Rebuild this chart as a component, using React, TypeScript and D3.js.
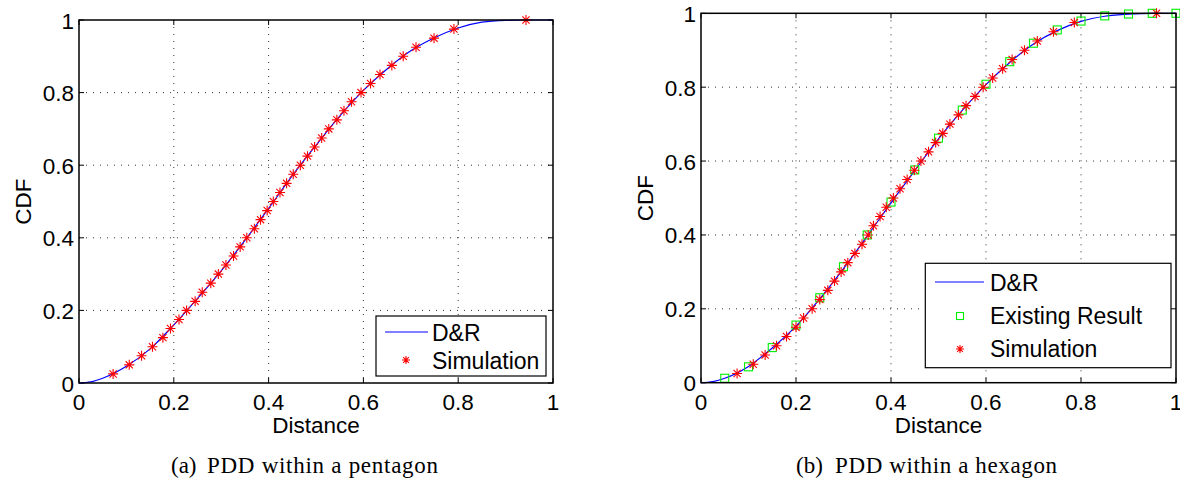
import * as d3 from "d3";
import { FC } from "react";

const W = 1180;
const H = 479;
const TICKS = [0, 0.2, 0.4, 0.6, 0.8, 1];
const TICK_LABELS = ["0", "0.2", "0.4", "0.6", "0.8", "1"];
const GRID = [0.2, 0.4, 0.6, 0.8];

// (a) pentagon
const PENT_DR_D = [0, 0.025, 0.05, 0.1, 0.15, 0.2, 0.25, 0.3, 0.35, 0.4, 0.45, 0.5, 0.55, 0.6, 0.65, 0.7, 0.75, 0.8, 0.85, 0.9, 0.95, 1];
const PENT_DR_CDF = [0, 0.003, 0.013, 0.046, 0.094, 0.16, 0.233, 0.309, 0.393, 0.481, 0.571, 0.655, 0.735, 0.806, 0.865, 0.915, 0.951, 0.978, 0.994, 0.999, 1, 1];
const PENT_SIM_D = [
  0.072, 0.106, 0.132, 0.155, 0.177, 0.193, 0.211, 0.227, 0.245, 0.26, 0.278, 0.294, 0.31, 0.326, 0.34,
  0.354, 0.37, 0.383, 0.397, 0.41, 0.424, 0.438, 0.452, 0.467, 0.482, 0.497, 0.512, 0.527, 0.544, 0.559,
  0.575, 0.595, 0.615, 0.635, 0.66, 0.684, 0.711, 0.749, 0.791, 0.943,
];
const PENT_SIM_CDF = [
  0.025, 0.05, 0.075, 0.1, 0.125, 0.15, 0.175, 0.2, 0.225, 0.25, 0.275, 0.3, 0.325, 0.35, 0.375,
  0.4, 0.425, 0.45, 0.475, 0.5, 0.525, 0.55, 0.575, 0.6, 0.625, 0.65, 0.675, 0.7, 0.725, 0.75,
  0.775, 0.8, 0.825, 0.85, 0.875, 0.9, 0.925, 0.95, 0.975, 1,
];

// (b) hexagon
const HEX_DR_D = [0, 0.025, 0.05, 0.1, 0.15, 0.2, 0.25, 0.3, 0.35, 0.4, 0.45, 0.5, 0.55, 0.6, 0.65, 0.7, 0.75, 0.8, 0.85, 0.9, 0.95, 1];
const HEX_DR_CDF = [0, 0.003, 0.012, 0.044, 0.094, 0.153, 0.227, 0.309, 0.397, 0.487, 0.574, 0.66, 0.737, 0.807, 0.867, 0.917, 0.953, 0.978, 0.992, 0.998, 1, 1];
const HEX_EX_D = [0.05, 0.1, 0.15, 0.2, 0.25, 0.3, 0.35, 0.4, 0.45, 0.5, 0.55, 0.6, 0.65, 0.7, 0.75, 0.8, 0.85, 0.9, 0.95, 1];
const HEX_EX_CDF = [0.012, 0.043, 0.095, 0.156, 0.23, 0.314, 0.4, 0.489, 0.576, 0.662, 0.738, 0.808, 0.869, 0.919, 0.955, 0.979, 0.993, 0.998, 1, 1];
const HEX_SIM_D = [
  0.076, 0.11, 0.135, 0.159, 0.18, 0.2, 0.216, 0.234, 0.25, 0.267, 0.281, 0.295, 0.309, 0.324, 0.339,
  0.352, 0.363, 0.377, 0.39, 0.405, 0.419, 0.434, 0.449, 0.463, 0.479, 0.494, 0.509, 0.524, 0.542, 0.558,
  0.577, 0.594, 0.614, 0.635, 0.655, 0.681, 0.708, 0.742, 0.786, 0.959,
];
const HEX_SIM_CDF = PENT_SIM_CDF;

type Pt = [number, number];
const zip = (a: number[], b: number[]): Pt[] => a.map((v, i) => [v, b[i]]);

const FONT = "'Liberation Sans', Arial, Helvetica, sans-serif";
const SERIF = "'Liberation Serif', 'Times New Roman', serif";

const star = (r: number) => {
  const q = r * 0.72;
  return `M${-r},0H${r}M0,${-r}V${r}M${-q},${-q}L${q},${q}M${-q},${q}L${q},${-q}`;
};

type LegendItem = { kind: "line" | "square" | "star"; label: string; y: number; base: number };

const Panel: FC<{
  x0: number;
  x1: number;
  y0: number;
  y1: number;
  dr: Pt[];
  sim: Pt[];
  ex?: Pt[];
  legend: { x: number; y: number; w: number; h: number; symX: number; textX: number; lineX: [number, number] };
  items: LegendItem[];
  tag: string;
  tagX: number;
  caption: string;
  capX: number;
  capLen: number;
}> = ({ x0, x1, y0, y1, dr, sim, ex, legend, items, tag, tagX, caption, capX, capLen }) => {
  const x = d3.scaleLinear().domain([0, 1]).range([x0, x1]);
  const y = d3.scaleLinear().domain([0, 1]).range([y1, y0]);
  const line = d3
    .line<Pt>()
    .x((d) => x(d[0]))
    .y((d) => y(d[1]))
    .curve(d3.curveMonotoneX);
  const tl = 5;

  return (
    <g>
      {/* grid */}
      {GRID.map((t) => (
        <g key={"g" + t} stroke="#333" strokeWidth={1} strokeDasharray="1,6">
          <line x1={x(t)} x2={x(t)} y1={y0} y2={y1} />
          <line x1={x0} x2={x1} y1={y(t)} y2={y(t)} />
        </g>
      ))}
      {/* ticks */}
      {TICKS.map((t) => (
        <g key={"t" + t} stroke="#000" strokeWidth={1}>
          <line x1={x(t)} x2={x(t)} y1={y1} y2={y1 - tl} />
          <line x1={x(t)} x2={x(t)} y1={y0} y2={y0 + tl} />
          <line x1={x0} x2={x0 + tl} y1={y(t)} y2={y(t)} />
          <line x1={x1} x2={x1 - tl} y1={y(t)} y2={y(t)} />
        </g>
      ))}
      {/* tick labels */}
      {TICKS.map((t, i) => (
        <g key={"l" + t} fontFamily={FONT} fontSize={22.5} fill="#000">
          <text x={x(t)} y={y1 + 27} textAnchor="middle">
            {TICK_LABELS[i]}
          </text>
          <text x={x0 - 5} y={y(t) + 8.5} textAnchor="end">
            {TICK_LABELS[i]}
          </text>
        </g>
      ))}
      {/* series */}
      <path d={line(dr) || ""} fill="none" stroke="#0000ff" strokeWidth={1.2} />
      {ex &&
        ex.map((d, i) => (
          <rect key={"e" + i} x={x(d[0]) - 4} y={y(d[1]) - 4} width={8} height={8} fill="none" stroke="#00ee00" strokeWidth={1.1} />
        ))}
      {sim.map((d, i) => (
        <path key={"s" + i} transform={`translate(${x(d[0])},${y(d[1])})`} d={star(5)} stroke="#ff0000" strokeWidth={1.1} fill="none" />
      ))}
      {/* box */}
      <rect x={x0} y={y0} width={x1 - x0} height={y1 - y0} fill="none" stroke="#000" strokeWidth={1.5} />
      {/* axis labels */}
      <text x={(x0 + x1) / 2} y={y1 + 50} textAnchor="middle" fontFamily={FONT} fontSize={22.5}>
        Distance
      </text>
      <text
        transform={`translate(${x0 - 48},${(y0 + y1) / 2}) rotate(-90)`}
        textAnchor="middle"
        fontFamily={FONT}
        fontSize={22.5}
      >
        CDF
      </text>
      {/* legend */}
      <rect x={legend.x} y={legend.y} width={legend.w} height={legend.h} fill="#fff" stroke="#000" strokeWidth={1.2} />
      {items.map((it) => (
        <g key={it.label}>
          {it.kind === "line" && (
            <line x1={legend.lineX[0]} x2={legend.lineX[1]} y1={it.y} y2={it.y} stroke="#0000ff" strokeWidth={1.2} />
          )}
          {it.kind === "square" && (
            <rect x={legend.symX - 3.5} y={it.y - 3.5} width={7} height={7} fill="none" stroke="#00ee00" strokeWidth={1.1} />
          )}
          {it.kind === "star" && (
            <path transform={`translate(${legend.symX},${it.y})`} d={star(4)} stroke="#ff0000" strokeWidth={1.1} fill="none" />
          )}
          <text x={legend.textX} y={it.base} fontFamily={FONT} fontSize={23}>
            {it.label}
          </text>
        </g>
      ))}
      {/* caption */}
      <text x={tagX} y={473} fontFamily={SERIF} fontSize={23}>
        {tag}
      </text>
      <text x={capX} y={473} fontFamily={SERIF} fontSize={23} textLength={capLen} lengthAdjust="spacing">
        {caption}
      </text>
    </g>
  );
};

const App: FC = () => {
  return (
    <svg
      width={W}
      height={H}
      viewBox={`0 0 ${W} ${H}`}
      style={{ position: "absolute", left: 0, top: 0, background: "#fff" }}
    >
      <rect width={W} height={H} fill="#fff" />
      <Panel
        x0={79}
        x1={553}
        y0={20}
        y1={383}
        dr={zip(PENT_DR_D, PENT_DR_CDF)}
        sim={zip(PENT_SIM_D, PENT_SIM_CDF)}
        legend={{ x: 376, y: 316, w: 170, h: 60, symX: 406, textX: 432, lineX: [385, 428] }}
        items={[
          { kind: "line", label: "D&R", y: 332, base: 341 },
          { kind: "star", label: "Simulation", y: 360, base: 369 },
        ]}
        tag="(a)"
        tagX={171}
        caption="PDD within a pentagon"
        capX={207}
        capLen={231}
      />
      <Panel
        x0={701}
        x1={1176}
        y0={13.3}
        y1={382.7}
        dr={zip(HEX_DR_D, HEX_DR_CDF)}
        sim={zip(HEX_SIM_D, HEX_SIM_CDF)}
        ex={zip(HEX_EX_D, HEX_EX_CDF)}
        legend={{ x: 925.3, y: 263.3, w: 245.7, h: 104.4, symX: 960, textX: 990, lineX: [935, 984] }}
        items={[
          { kind: "line", label: "D&R", y: 282, base: 291 },
          { kind: "square", label: "Existing Result", y: 316, base: 323.5 },
          { kind: "star", label: "Simulation", y: 349, base: 357 },
        ]}
        tag="(b)"
        tagX={796}
        caption="PDD within a hexagon"
        capX={835}
        capLen={222}
      />
    </svg>
  );
};

export default App;
